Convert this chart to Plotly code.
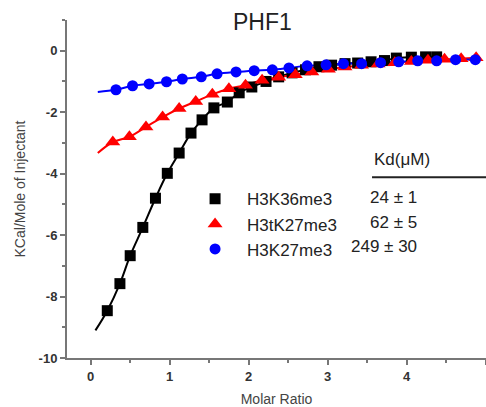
import plotly.graph_objects as go

# H3K36me3 (black squares)
k36_x = [0.21, 0.37, 0.50, 0.66, 0.82, 0.97, 1.12, 1.27, 1.41, 1.56, 1.73, 1.88, 2.04, 2.22,
         2.38, 2.55, 2.72, 2.89, 3.05, 3.22, 3.38, 3.55, 3.72, 3.87, 4.06, 4.24, 4.38]
k36_y = [-8.46, -7.58, -6.67, -5.75, -4.80, -3.99, -3.33, -2.68, -2.25, -1.86, -1.67, -1.37, -1.18, -1.00,
         -0.85, -0.72, -0.62, -0.52, -0.47, -0.42, -0.40, -0.36, -0.32, -0.24, -0.21, -0.20, -0.20]
k36_fit_start = (0.06, -9.10)

# H3tK27me3 (red triangles)
tk27_x = [0.28, 0.49, 0.70, 0.91, 1.12, 1.33, 1.54, 1.75, 1.96, 2.17, 2.38, 2.59,
          2.80, 3.01, 3.22, 3.43, 3.64, 3.85, 4.06, 4.27, 4.48, 4.69, 4.88]
tk27_y = [-2.97, -2.80, -2.48, -2.16, -1.88, -1.65, -1.42, -1.24, -1.12, -0.96, -0.86, -0.78,
          -0.69, -0.60, -0.53, -0.47, -0.43, -0.39, -0.35, -0.31, -0.28, -0.26, -0.23]
tk27_fit_start = (0.09, -3.33)

# H3K27me3 (blue circles)
k27_x = [0.32, 0.53, 0.74, 0.96, 1.16, 1.40, 1.60, 1.84, 2.07, 2.30, 2.51,
         2.74, 2.98, 3.20, 3.43, 3.67, 3.90, 4.14, 4.38, 4.62, 4.87]
k27_y = [-1.27, -1.14, -1.08, -1.01, -0.92, -0.85, -0.75, -0.69, -0.65, -0.62, -0.56,
         -0.49, -0.46, -0.42, -0.42, -0.39, -0.36, -0.33, -0.33, -0.29, -0.29]
k27_fit_start = (0.09, -1.34)

names = ["H3K36me3", "H3tK27me3", "H3K27me3"]
kd_labels = ["24 ± 1", "62 ± 5", "249 ± 30"]

FONT = "Arial, Liberation Sans, sans-serif"

series = [
    (k36_x, k36_y, k36_fit_start, "black", "square", 11),
    (tk27_x, tk27_y, tk27_fit_start, "#ff0000", "triangle-up", 13),
    (k27_x, k27_y, k27_fit_start, "#0000ff", "circle", 11),
]

fig = go.Figure()

# fit curves first so markers sit on top
for xs, ys, start, color, sym, size in series:
    fig.add_trace(go.Scatter(
        x=[start[0]] + xs, y=[start[1]] + ys, mode="lines",
        line=dict(color=color, width=2, shape="spline"),
        showlegend=False, hoverinfo="skip",
    ))

for (xs, ys, start, color, sym, size), name in zip(series, names):
    fig.add_trace(go.Scatter(
        x=xs, y=ys, mode="markers", name=name,
        marker=dict(color=color, symbol=sym, size=size, line=dict(width=0)),
    ))

# Kd table
fig.add_annotation(x=0.871, y=0.586, xref="paper", yref="paper", text="Kd(μM)",
                   showarrow=False, font=dict(size=17, color="#222", family=FONT))
fig.add_shape(type="line", xref="paper", yref="paper", x0=0.728, x1=1.0, y0=0.535, y1=0.535,
              line=dict(color="#222", width=2))
for kd, yy in zip(kd_labels, [0.476, 0.402, 0.331]):
    fig.add_annotation(x=0.840, y=yy, xref="paper", yref="paper", text=kd, yanchor="middle",
                       showarrow=False, font=dict(size=17, color="#222", family=FONT))

axis_common = dict(
    showline=True, linecolor="#777", linewidth=2, showgrid=False, zeroline=False,
    ticks="outside", ticklen=5, tickwidth=1.5, tickcolor="#777",
    tickfont=dict(size=13, color="#333", family=FONT, weight="bold"),
)

fig.update_xaxes(
    range=[-0.3, 5.005], tickvals=[0, 1, 2, 3, 4, 5], ticktext=["0", "1", "2", "3", "4", "5"],
    minor=dict(tickvals=[0.5, 1.5, 2.5, 3.5, 4.5], ticks="outside", ticklen=3, tickcolor="#777"),
    title=dict(text="Molar Ratio", font=dict(size=14, color="#444", family=FONT), standoff=12),
    **axis_common,
)
fig.update_yaxes(
    range=[-10, 1], tickvals=[0, -2, -4, -6, -8, -10], ticktext=["0", "-2", "-4", "-6", "-8", "-10"],
    minor=dict(tickvals=[1, -1, -3, -5, -7, -9], ticks="outside", ticklen=3, tickcolor="#777"),
    title=dict(text="KCal/Mole of Injectant", font=dict(size=14, color="#444", family=FONT), standoff=10),
    **axis_common,
)

fig.update_layout(
    width=486, height=407,
    margin=dict(l=67, r=0, t=20, b=49),
    paper_bgcolor="white", plot_bgcolor="white",
    title=dict(text="PHF1", x=0.54, xanchor="center", y=0.945, yanchor="middle",
               font=dict(size=23, color="#222", family=FONT)),
    legend=dict(x=0.277, y=0.523, xanchor="left", yanchor="top", itemwidth=54,
                font=dict(size=17, color="#222", family=FONT), bgcolor="rgba(0,0,0,0)",
                tracegroupgap=0),
    font=dict(family=FONT),
)

fig.write_html("out.html", config={"displayModeBar": False},
               post_script="document.body.style.margin='0';")
